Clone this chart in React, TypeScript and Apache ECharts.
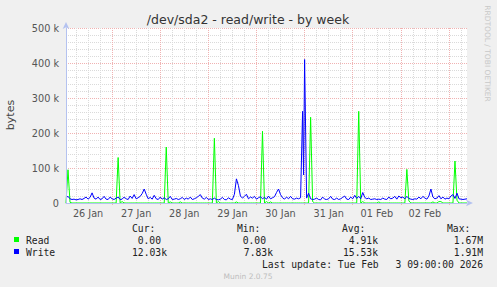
import React, { useEffect, useRef } from 'react';
import * as echarts from 'echarts';

// hours counted from 26 Jan 00:00; the graph runs 26 Jan 01:00 -> 03 Feb 09:00
const START_HOUR = 1;
const END_HOUR = 201;
const dayLabels = ['26 Jan', '27 Jan', '28 Jan', '29 Jan', '30 Jan', '31 Jan', '01 Feb', '02 Feb'];
const yTickValues = [0, 100000, 200000, 300000, 400000, 500000];

// write, bytes/s in thousands, one value per hour (h = 1..201)
const writeK = [
  15, 19, 12, 10, 11, 9, 10, 12, 10, 13, 17, 11,
  16, 29, 14, 11, 17, 10, 12, 19, 11, 10, 17, 12,
  10, 14, 17, 10, 11, 17, 12, 10, 20, 13, 24, 12,
  15, 19, 27, 40, 25, 12, 16, 11, 22, 12, 10, 17,
  11, 15, 10, 12, 19, 10, 11, 13, 10, 12, 16, 10,
  14, 11, 17, 10, 12, 15, 19, 24, 14, 11, 16, 10,
  12, 10, 14, 10, 9, 11, 16, 10, 9, 15, 11, 10,
  25, 69, 50, 20, 14, 19, 25, 12, 17, 14, 19, 11,
  15, 18, 12, 16, 11, 20, 12, 15, 18, 30, 40, 24,
  15, 11, 17, 12, 19, 12, 11, 14, 12, 15, 262, 410,
  14, 28, 12, 10, 11, 14, 10, 9, 17, 11, 10, 12,
  19, 11, 10, 14, 10, 12, 16, 20, 11, 10, 17, 12,
  22, 13, 19, 12, 30, 16, 12, 14, 10, 11, 12, 10,
  11, 10, 14, 11, 10, 17, 12, 14, 19, 11, 20, 15,
  17, 12, 19, 13, 11, 10, 12, 11, 17, 12, 19, 14,
  11, 20, 40, 17, 12, 14, 21, 12, 17, 11, 14, 12,
  20, 24, 13, 28, 12, 11, 10, 11, 12,
];
// half-hour sample: the dip between the two write peaks on 30 Jan
const writeExtraHours = [119.5];
const writeExtraK = [80];

// read, bytes/s in thousands, one value per hour (h = 1..201)
const readK = [
  0, 95, 2, 0, 0, 0, 0, 0, 0, 0, 0, 0,
  0, 0, 0, 0, 0, 0, 0, 0, 0, 0, 0, 0,
  0, 0, 130, 0, 4, 0, 0, 0, 0, 0, 0, 0,
  0, 0, 0, 0, 0, 0, 0, 0, 0, 0, 0, 0,
  0, 0, 160, 0, 3, 0, 0, 0, 0, 3, 0, 0,
  0, 0, 0, 0, 0, 0, 0, 0, 0, 0, 0, 0,
  0, 0, 185, 0, 4, 0, 0, 0, 0, 0, 0, 0,
  0, 3, 0, 0, 0, 0, 0, 0, 0, 0, 0, 0,
  0, 0, 205, 0, 4, 0, 3, 0, 0, 0, 0, 0,
  0, 0, 0, 0, 0, 0, 0, 0, 0, 0, 0, 0,
  0, 0, 245, 4, 0, 0, 0, 0, 0, 0, 0, 0,
  0, 0, 0, 0, 0, 0, 0, 0, 0, 0, 0, 0,
  0, 0, 262, 0, 4, 0, 0, 0, 0, 0, 0, 0,
  3, 0, 0, 0, 0, 0, 0, 0, 0, 0, 0, 0,
  0, 0, 96, 6, 0, 0, 0, 0, 0, 0, 0, 0,
  0, 0, 0, 3, 0, 0, 4, 4, 0, 0, 0, 0,
  0, 0, 120, 8, 0, 0, 0, 0, 0,
];

const legendHeaders = ['Cur:', 'Min:', 'Avg:', 'Max:'];
const readStats = ['0.00', '0.00', '4.91k', '1.67M'];
const writeStats = ['12.03k', '7.83k', '15.53k', '1.91M'];

const SANS = 'DejaVu Sans';
const MONO = 'DejaVu Sans Mono';
const AXIS = '#b4c2f0';
const MAJOR = '#f0b2b2';
const MINOR = '#dadada';

function txt(text: string, x: number, y: number, size: number, fill: string, align: string, family: string, extra: any = {}) {
  return {
    type: 'text',
    x,
    y,
    silent: true,
    ...extra,
    style: {
      text,
      fill,
      fontSize: size,
      fontFamily: family,
      align,
      textAlign: align,
      verticalAlign: 'middle',
      textVerticalAlign: 'middle',
    },
  };
}

export default function App() {
  const ref = useRef<HTMLDivElement>(null);
  useEffect(() => {
    const chart = echarts.init(ref.current!, null, { renderer: 'svg' });
    const hours: string[] = [];
    for (let h = START_HOUR; h <= END_HOUR; h++) hours.push(String(h));
    const writeData: number[][] = writeK.map((v, i) => [START_HOUR + i, v * 1000]);
    writeExtraHours.forEach((h, i) => writeData.push([h, writeExtraK[i] * 1000]));
    writeData.sort((a, b) => a[0] - b[0]);
    const readData = readK.map((v, i) => [START_HOUR + i, v * 1000]);

    const statCols = [
      { head: 132, right: [161, 167] },
      { head: 237, right: [266, 273] },
      { head: 342, right: [378, 378] },
      { head: 447, right: [483, 483] },
    ];
    const graphics: any[] = [
      txt('/dev/sda2 - read/write - by week', 248, 19, 12.5, '#333', 'center', SANS),
      txt('bytes', 10, 115, 11, '#444', 'center', SANS, { rotation: Math.PI / 2 }),
      txt('RRDTOOL / TOBI OETIKER', 487, 53.5, 7.5, '#c8c8c8', 'center', SANS, { rotation: -Math.PI / 2 }),
      { type: 'rect', shape: { x: 14, y: 237, width: 5, height: 5 }, style: { fill: '#00ff00' }, silent: true },
      { type: 'rect', shape: { x: 14, y: 249, width: 5, height: 5 }, style: { fill: '#0000ff' }, silent: true },
      txt('Read', 26, 240, 9.7, '#222', 'left', MONO),
      txt('Write', 26, 252, 9.7, '#222', 'left', MONO),
      txt('Last update: Tue Feb', 262, 264, 9.7, '#222', 'left', MONO),
      txt('3 09:00:00 2026', 483, 264, 9.7, '#222', 'right', MONO),
      txt('Munin 2.0.75', 248, 276, 7.5, '#bdbdbd', 'center', SANS),
    ];
    statCols.forEach((c, i) => {
      graphics.push(txt(legendHeaders[i], c.head, 228, 9.7, '#222', 'left', MONO));
      graphics.push(txt(readStats[i], c.right[0], 240, 9.7, '#222', 'right', MONO));
      graphics.push(txt(writeStats[i], c.right[1], 252, 9.7, '#222', 'right', MONO));
    });

    chart.setOption({
      animation: false,
      backgroundColor: '#f0f0f0',
      grid: { left: 66, top: 28, width: 401, height: 175, show: true, backgroundColor: '#ffffff', borderWidth: 0 },
      xAxis: [
        {
          type: 'value', min: START_HOUR, max: END_HOUR, position: 'bottom', z: 5,
          axisLine: { show: true, lineStyle: { color: AXIS, width: 1 }, symbol: ['none', 'arrow'], symbolSize: [5, 7], symbolOffset: [0, 6] },
          axisTick: { show: false }, axisLabel: { show: false }, splitLine: { show: false },
        },
        {
          type: 'category', data: hours, boundaryGap: false, position: 'top',
          axisLine: { show: false }, axisTick: { show: false }, axisLabel: { show: false },
          splitLine: { show: true, interval: (i: number, v: string) => +v % 6 === 0 && +v % 24 !== 0, lineStyle: { color: MINOR, type: [1, 1], width: 1 } },
        },
        {
          type: 'category', data: hours, boundaryGap: false, position: 'bottom',
          axisLine: { show: false },
          axisTick: { show: true, length: 2, interval: (i: number, v: string) => +v % 24 === 0, lineStyle: { color: MAJOR } },
          axisLabel: {
            interval: (i: number, v: string) => +v % 24 === 12,
            formatter: (v: string) => dayLabels[(+v - 12) / 24] ?? '',
            margin: 5, fontSize: 9.7, color: '#555', fontFamily: SANS,
          },
          splitLine: { show: true, interval: (i: number, v: string) => +v % 24 === 0, lineStyle: { color: MAJOR, type: [1, 1], width: 1 } },
        },
      ],
      yAxis: [
        {
          type: 'value', min: yTickValues[0], max: yTickValues[yTickValues.length - 1], interval: 100000, position: 'left',
          axisLine: { show: false }, axisTick: { show: false }, axisLabel: { show: false },
          splitLine: { show: true, lineStyle: { color: MAJOR, type: [1, 1], width: 1 } },
          minorTick: { show: false, splitNumber: 5 },
          minorSplitLine: { show: true, lineStyle: { color: MINOR, type: [1, 1], width: 1 } },
        },
        {
          type: 'value', min: yTickValues[0], max: yTickValues[yTickValues.length - 1], interval: 100000, position: 'left', z: 5,
          axisLine: { show: true, lineStyle: { color: AXIS, width: 1 }, symbol: ['none', 'arrow'], symbolSize: [5, 7], symbolOffset: [0, 6] },
          axisTick: { show: false }, splitLine: { show: false },
          axisLabel: {
            margin: 7, fontSize: 9.7, color: '#555', fontFamily: SANS,
            formatter: (v: number) => (v === 0 ? '0' : v / 1000 + ' k'),
          },
        },
      ],
      series: [
        {
          name: 'Read', type: 'line', xAxisIndex: 0, yAxisIndex: 0, data: readData, showSymbol: false, z: 2,
          lineStyle: { color: '#00ff00', width: 1 }, itemStyle: { color: '#00ff00' },
        },
        {
          name: 'Write', type: 'line', xAxisIndex: 0, yAxisIndex: 0, data: writeData, showSymbol: false, z: 3,
          lineStyle: { color: '#0000ff', width: 1 }, itemStyle: { color: '#0000ff' },
        },
      ],
      graphic: graphics,
    });
    return () => chart.dispose();
  }, []);
  return <div ref={ref} style={{ position: 'fixed', left: 0, top: 0, width: 497, height: 287 }} />;
}
